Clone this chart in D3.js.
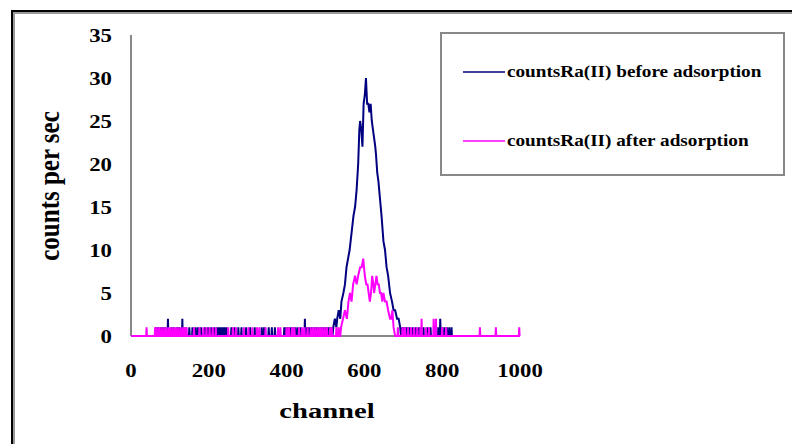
<!DOCTYPE html>
<html>
<head>
<meta charset="utf-8">
<script src="https://cdn.jsdelivr.net/npm/d3@7"></script>
<style>
  body { margin: 0; background: #fff; }
  svg { display: block; }
  text { font-family: "Liberation Serif", "DejaVu Serif", serif; font-weight: bold; fill: #000; }
</style>
</head>
<body>
<script>

/* DATA */

var xTicks = [0, 200, 400, 600, 800, 1000];
var yTicks = [0, 5, 10, 15, 20, 25, 30, 35];

var seriesNames = ["countsRa(II) before adsorption", "countsRa(II) after adsorption"];
var seriesColors = ["#000080", "#ff00ff"];

// before adsorption: baseline channels with 1 and 2 counts, then the peak [channel, counts]
var beforeOnes = [64, 70, 76, 82, 88, 104, 110, 118, 124, 140, 150, 158, 166, 172, 180, 190, 198, 206, 214,
  222, 226, 230, 234, 238, 242, 246, 258, 266, 276, 284, 296, 306, 318, 336, 342, 354, 362, 370, 394, 398,
  404, 410, 416, 422, 428, 436, 452, 458, 464, 470, 476, 482, 488, 494, 500, 506, 510, 514,
  696, 700, 704, 708, 712, 716, 724, 732, 740, 752, 762, 770, 790, 800, 806, 812, 818, 824];
var beforeTwos = [95, 132, 447, 795];
var beforePeak = [[518, 0], [520, 1], [524, 2], [528, 1], [530, 2], [534, 3], [538, 2], [541, 4], [546, 5],
  [550, 6], [554, 8], [558, 9], [562, 10], [567, 12], [572, 14], [576, 15], [580, 17], [584, 20], [587, 24],
  [589, 25], [592, 24], [595, 22], [598, 27], [601, 28], [604, 30], [607, 27], [610, 27], [613, 26],
  [616, 27], [619, 25], [622, 24], [625, 23], [628, 22], [630, 21], [633, 19], [636, 18], [640, 16],
  [644, 14], [649, 11], [653, 10], [657, 8], [661, 7], [666, 5], [671, 4], [675, 3], [679, 3], [684, 2],
  [688, 2], [692, 1], [694, 0]];
var beforeEnd = 826;

// after adsorption
var afterOnes = [40, 62, 66, 72, 78, 84, 90, 96, 100, 106, 112, 116, 122, 128, 134, 138, 143, 162, 176, 186,
  194, 202, 210, 218, 250, 262, 270, 290, 302, 312, 324, 330, 346, 378, 384, 400, 406, 414, 420, 432, 440,
  446, 454, 462, 468, 474, 480, 486, 492, 498, 504, 512, 516, 528, 534,
  686, 698, 704, 712, 720, 728, 736, 744, 758, 766, 800, 810, 897, 938, 998];
var afterTwos = [747, 778, 784];
var afterPeak = [[538, 0], [540, 1], [545, 2], [550, 3], [555, 2], [559, 4], [563, 5], [567, 4], [571, 6],
  [576, 7], [580, 6], [584, 7], [589, 8], [593, 8], [597, 9], [601, 7], [605, 6], [608, 6], [611, 5],
  [614, 4], [617, 5], [620, 7], [623, 6], [625, 5], [628, 6], [631, 7], [634, 6], [637, 6], [640, 5],
  [643, 5], [646, 4], [649, 5], [653, 4], [657, 4], [661, 3], [666, 2], [669, 2], [672, 3], [675, 1],
  [679, 0]];
var afterEnd = 1000;


/* build line points: zero baseline with single channel spikes + peak */

function buildPoints(ones, twos, peak, end) {
    var pts = [[0, 0]];
    ones.forEach(function(c) { pts.push([c - 1, 0], [c, 1], [c + 1, 0]); });
    twos.forEach(function(c) { pts.push([c - 1, 0], [c, 2], [c + 1, 0]); });
    peak.forEach(function(p) { pts.push(p); });
    pts.push([end, 0]);
    pts.sort(function(a, b) { return a[0] - b[0]; });
    return pts;
}

var before = buildPoints(beforeOnes, beforeTwos, beforePeak, beforeEnd);
var after = buildPoints(afterOnes, afterTwos, afterPeak, afterEnd);


/* CREATE CHART */

var width = 792, height = 444;
var stretch = 1.2; // the picture's type looks wider than normal

var svg = d3.select("body")
    .append("svg")
    .attr("width", width)
    .attr("height", height);

// outer frame (only top and left visible)
svg.append("path").attr("d", "M14,444 V13 H792").attr("fill", "none").attr("stroke", "#999").attr("stroke-width", 2);
svg.append("path").attr("d", "M12,444 V11 H792").attr("fill", "none").attr("stroke", "#000").attr("stroke-width", 2);

var x = d3.scaleLinear().domain([0, 1000]).range([131, 520]);
var y = d3.scaleLinear().domain([0, 35]).range([336, 35]);

function place(px, py, sx) {
    return "translate(" + px + "," + py + ") scale(" + sx + ",1)";
}

// axes
svg.append("line")
    .attr("x1", x(0)).attr("x2", x(0))
    .attr("y1", y(35)).attr("y2", y(0))
    .attr("stroke", "#888").attr("stroke-width", 2);
svg.append("line")
    .attr("x1", x(0)).attr("x2", x(1000))
    .attr("y1", y(0)).attr("y2", y(0))
    .attr("stroke", "#888").attr("stroke-width", 2);

svg.selectAll(".ylab")
    .data(yTicks)
    .enter()
    .append("text")
    .attr("class", "ylab")
    .attr("transform", function(d) { return place(112, y(d) + 6.5, stretch); })
    .attr("text-anchor", "end")
    .attr("font-size", 19)
    .text(function(d) { return d; });

svg.selectAll(".xlab")
    .data(xTicks)
    .enter()
    .append("text")
    .attr("class", "xlab")
    .attr("transform", function(d) { return place(x(d), 377, stretch); })
    .attr("text-anchor", "middle")
    .attr("font-size", 19)
    .text(function(d) { return d; });

svg.append("text")
    .attr("transform", place(327, 418, 1.3))
    .attr("text-anchor", "middle")
    .attr("font-size", 22)
    .text("channel");

svg.append("text")
    .attr("transform", "translate(59,186) rotate(-90) scale(1,1.2)")
    .attr("text-anchor", "middle")
    .attr("font-size", 25)
    .text("counts per sec");

// series
var line = d3.line()
    .x(function(d) { return x(d[0]); })
    .y(function(d) { return y(d[1]); });

[before, after].forEach(function(pts, i) {
    svg.append("path")
        .datum(pts)
        .attr("d", line)
        .attr("fill", "none")
        .attr("stroke", seriesColors[i])
        .attr("stroke-width", 2)
        .attr("stroke-linejoin", "miter");
});

// legend
var legend = svg.append("g");
legend.append("rect")
    .attr("x", 441).attr("y", 33)
    .attr("width", 343).attr("height", 142)
    .attr("fill", "#fff")
    .attr("stroke", "#888").attr("stroke-width", 2);

var legendY = [72, 141];
seriesNames.forEach(function(name, i) {
    legend.append("line")
        .attr("x1", 463).attr("x2", 505)
        .attr("y1", legendY[i]).attr("y2", legendY[i])
        .attr("stroke", seriesColors[i]).attr("stroke-width", 1.5);
    legend.append("text")
        .attr("transform", place(507, legendY[i] + 5, stretch))
        .attr("font-size", 16)
        .text(name);
});

</script>
</body>
</html>
